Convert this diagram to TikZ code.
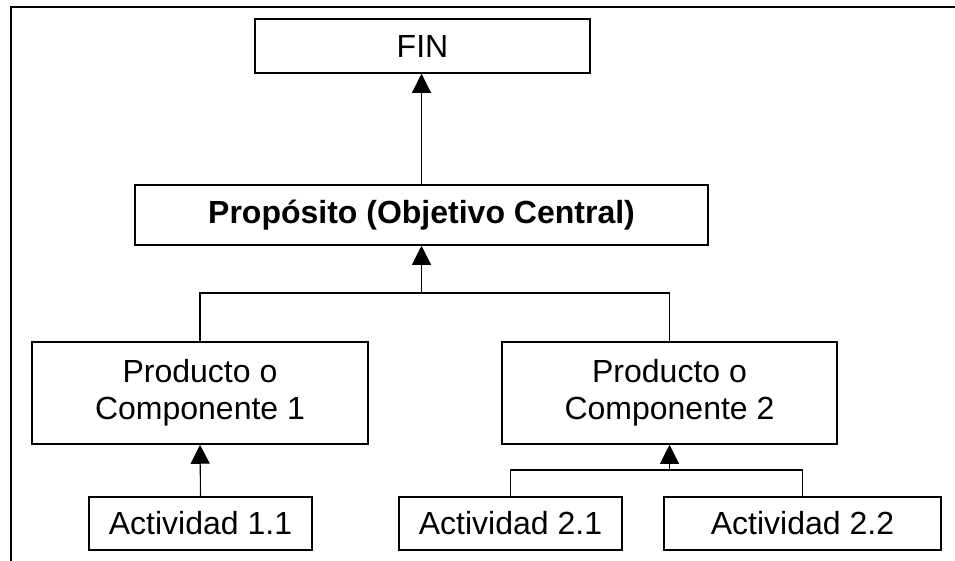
\documentclass[tikz,border=0pt]{standalone}
\usepackage{fontspec}
\setmainfont{Liberation Sans}
\usepackage{xcolor}
\usepackage{tikz}
\usetikzlibrary{arrows.meta, positioning, calc}

\begin{document}
\begin{tikzpicture}[x=1pt, y=-1pt,
    box/.style={draw, line width=1.5pt, inner sep=0pt, align=center,
                font=\fontsize{32}{36.7}\selectfont},
    link/.style={line width=1.1pt},
    arr/.style={link, -{Triangle[length=19pt, width=19pt]}}]
    % Frame
    \clip (0,0) rectangle (955,560);
    \draw [line width=1.5pt] (11,7) rectangle (1000,600);

    % Nodes
    \node (fin) [box, minimum width=335pt, minimum height=54pt] at (422.5,46) {FIN};
    \node (prop) [box, minimum width=573pt, minimum height=60pt] at (421.5,215) {\textbf{Propósito (Objetivo Central)}};
    \node (prod1) [box, minimum width=336pt, minimum height=102pt] at (200,393) {Producto o\\Componente 1};
    \node (prod2) [box, minimum width=335pt, minimum height=102pt] at (669.5,393) {Producto o\\Componente 2};
    \node (act11) [box, minimum width=223pt, minimum height=53pt] at (200.5,523.5) {Actividad 1.1};
    \node (act21) [box, minimum width=223pt, minimum height=53pt] at (510.5,523.5) {Actividad 2.1};
    \node (act22) [box, minimum width=277pt, minimum height=53pt] at (802.5,523.5) {Actividad 2.2};

    % Junctions
    \coordinate (j1) at (prop.south |- 0,293);
    \coordinate (j2) at (prod2.south |- 0,470);

    % Connections
    \draw [arr] (prop.north) -- (prop.north |- fin.south);
    \draw [link] (prod1.north) -- (prod1.north |- j1) -- (prod2.north |- j1) -- (prod2.north);
    \draw [arr] (j1) -- (prop.south);
    \draw [arr] (act11.north) -- (prod1.south);
    \draw [link] (act21.north) -- (act21.north |- j2) -- (act22.north |- j2) -- (act22.north);
    \draw [arr] (j2) -- (prod2.south);

\end{tikzpicture}
\end{document}
